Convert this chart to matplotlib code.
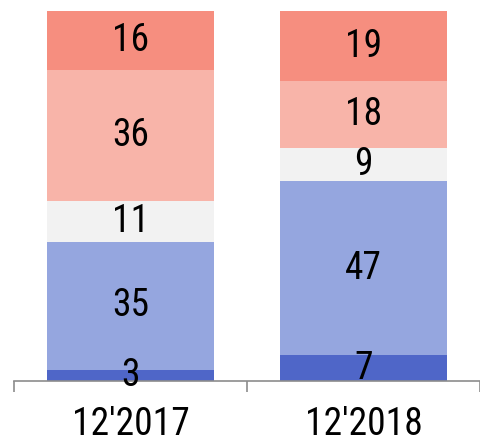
import matplotlib
matplotlib.use("Agg")
import matplotlib.pyplot as plt

categories = ["12'2017", "12'2018"]
seg1 = [3, 7]      # bottom, dark blue
seg2 = [35, 47]    # light blue
seg3 = [11, 9]     # light gray
seg4 = [36, 18]    # light salmon
seg5 = [16, 19]    # salmon (top)

series = [seg1, seg2, seg3, seg4, seg5]
colors = ["#4F66C8", "#95A6DF", "#F2F2F2", "#F8B4A9", "#F68E7F"]

plt.rcParams["font.family"] = ["Roboto Condensed", "DejaVu Sans"]

fig = plt.figure(figsize=(4.8, 4.4), dpi=100)
ax = fig.add_axes([14 / 480, 59 / 440, 466 / 480, 370 / 440])

x = list(range(len(categories)))
totals = [sum(col) for col in zip(*series)]
bottoms = [0.0] * len(categories)
for vals, c in zip(series, colors):
    heights = [v / t * 100 for v, t in zip(vals, totals)]
    ax.bar(x, heights, bottom=bottoms, width=0.717, color=c, edgecolor="none")
    for i, v in enumerate(vals):
        ax.text(x[i], bottoms[i] + heights[i] / 2, str(v), ha="center", va="center",
                fontsize=27, color="black")
    bottoms = [b + h for b, h in zip(bottoms, heights)]

ax.set_xlim(-0.5, 1.5)
ax.set_ylim(0, 100)
ax.set_yticks([])
for s in ["left", "right", "top"]:
    ax.spines[s].set_visible(False)
ax.spines["bottom"].set_color("#8C8C8C")
ax.spines["bottom"].set_linewidth(1.2)

ax.set_xticks([-0.5, 0.5, 1.5])
ax.set_xticklabels([])
ax.tick_params(axis="x", which="major", length=8, width=1.2, color="#8C8C8C")
ax.set_xticks(x, minor=True)
ax.set_xticklabels(categories, minor=True, fontsize=27)
ax.tick_params(axis="x", which="minor", length=0, pad=18)

fig.savefig("out.png", dpi=100)
